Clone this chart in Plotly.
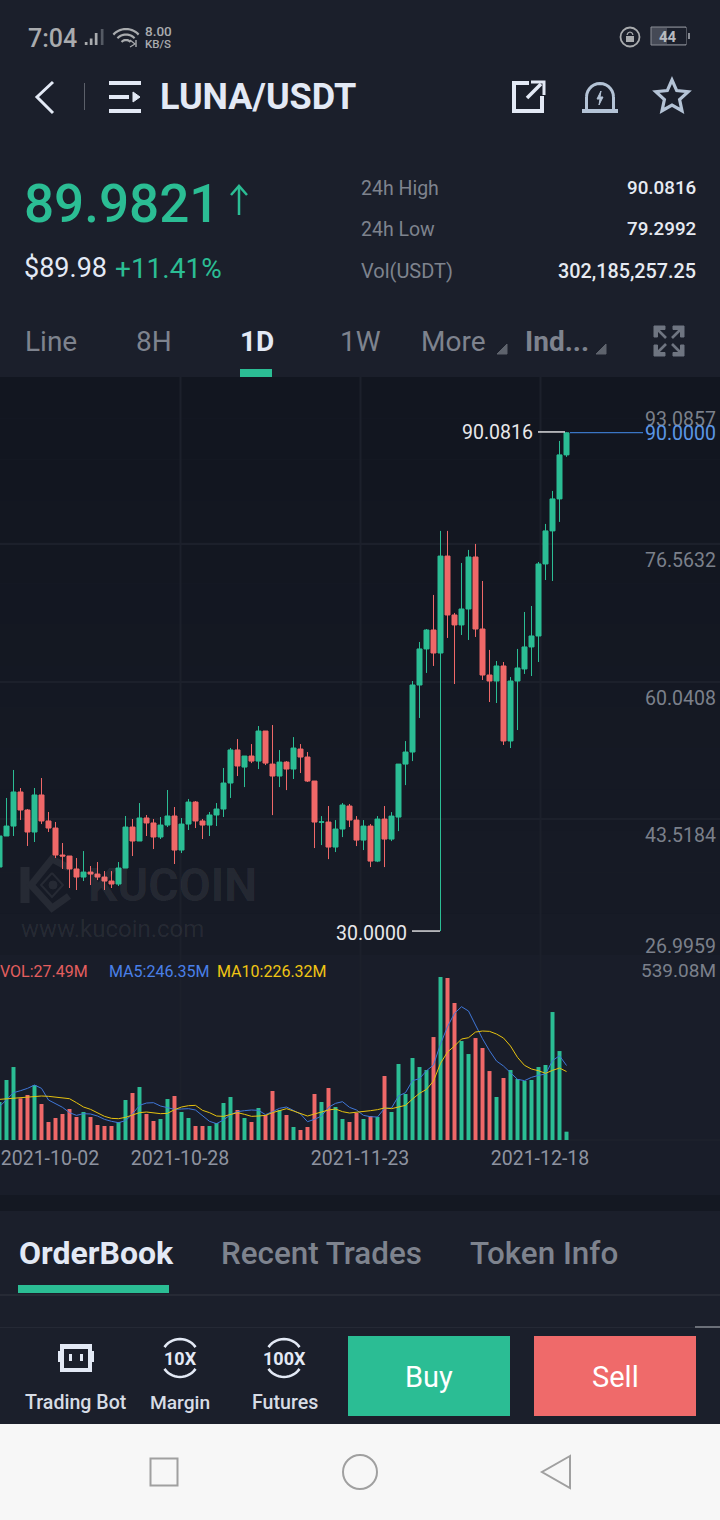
import math
import pandas as pd
import plotly.graph_objects as go

# ---------------- data ----------------
dates = pd.date_range("2021-10-02", periods=82, freq="D")
open_ = [37.71,41.44,42.64,46.74,44.57,41.92,46.38,43.25,42.40,39.15,
         39.03,37.47,36.50,37.10,36.86,36.50,36.02,35.66,37.59,42.52,
         40.84,43.61,43.01,41.32,42.76,43.85,39.75,42.88,45.53,43.25,
         42.76,43.97,44.69,47.82,51.80,49.74,51.07,50.46,54.08,50.10,
         48.66,50.34,49.50,51.91,50.95,48.06,43.10,43.12,40.11,42.28,
         45.05,43.36,40.95,42.64,38.42,43.48,41.07,43.72,50.10,51.55,
         59.62,63.96,66.24,63.47,75.14,68.05,66.85,68.77,75.03,66.36,
         60.82,60.10,61.91,52.88,60.10,61.55,64.20,65.52,74.19,78.17,
         82.02,87.32]
close = [41.44,42.64,46.74,44.57,41.92,46.38,43.25,42.40,39.15,39.03,
         37.47,36.50,37.10,36.86,36.50,36.02,35.66,37.59,42.52,40.84,
         43.61,43.01,41.32,42.76,43.85,39.75,42.88,45.53,43.25,42.76,
         43.97,44.69,47.82,51.80,49.87,51.07,50.46,54.08,50.22,48.66,
         50.34,49.50,52.03,50.95,48.06,43.12,43.14,40.11,42.28,45.17,
         43.36,40.95,42.64,38.42,43.48,41.07,43.84,50.10,51.55,59.62,
         63.96,66.24,63.47,75.14,68.05,66.85,68.77,75.03,66.36,60.82,
         60.10,61.91,52.88,60.10,61.67,64.20,65.52,74.19,78.17,82.02,
         87.32,89.98]
high = [41.76,46.02,49.39,47.22,44.69,47.22,48.42,44.33,43.13,40.60,
        39.03,38.79,39.63,37.83,38.31,37.22,37.22,38.31,43.85,43.49,
        45.41,43.97,43.49,43.73,46.98,44.93,43.61,45.90,45.65,43.49,
        44.33,45.41,49.63,52.04,53.11,51.07,52.51,54.68,54.08,54.80,
        51.79,50.46,53.35,52.51,51.55,48.06,43.84,45.05,43.36,45.41,
        45.29,43.84,43.36,42.88,43.84,45.05,44.32,50.10,52.87,60.10,
        64.80,66.36,70.46,78.17,78.17,68.29,74.31,75.88,76.60,72.14,
        63.84,62.51,62.39,60.58,63.96,68.41,69.13,74.43,79.01,82.98,
        89.00,90.0816]
low = [37.14,41.44,41.44,43.37,40.24,40.72,42.88,41.92,38.79,37.47,
       35.18,34.94,36.02,35.54,36.14,34.94,35.18,35.42,37.59,39.03,
       40.84,41.44,39.87,41.08,42.52,38.07,39.39,42.16,42.40,41.08,
       41.44,42.64,43.73,46.02,48.66,47.33,50.22,49.50,49.98,43.96,
       47.33,46.97,48.30,49.02,47.94,39.99,40.35,38.66,39.51,41.31,
       42.52,40.23,39.75,37.70,38.30,37.70,40.83,42.03,47.57,50.46,
       55.65,61.07,61.91,30.00,65.28,59.74,65.64,65.04,65.40,60.22,
       57.57,57.45,52.40,52.03,54.20,60.95,60.70,62.39,72.26,72.14,
       79.25,87.08]
volume = [125.6,198.4,241.3,137.8,148.8,181.8,119.0,59.5,72.7,86.0,
          102.5,76.0,92.6,76.0,49.6,46.3,46.3,59.5,132.2,155.4,
          175.2,86.0,62.8,69.4,135.5,145.5,92.6,72.7,46.3,46.3,
          46.3,56.2,122.3,142.2,99.2,72.7,59.5,105.8,82.7,162.0,
          99.2,82.7,43.0,33.1,43.0,152.1,125.6,171.9,109.1,69.4,
          59.5,89.3,69.4,79.3,76.0,211.6,92.6,251.3,152.1,271.1,
          241.3,231.4,340.5,539.08,535.6,452.9,327.3,284.3,337.2,304.2,
          228.1,142.2,205.0,231.4,201.7,195.1,198.4,241.3,248.0,423.2,
          294.2,27.49]
ma5 = [110.2,132.2,156.5,163.1,170.8,181.8,170.8,132.2,119.0,108.0,
       90.4,81.5,87.1,86.0,79.3,68.3,61.7,57.3,63.9,86.0,
       114.6,122.3,123.4,112.4,106.9,101.4,102.5,103.6,99.2,81.5,
       61.7,54.0,66.1,83.8,93.7,97.0,99.2,98.1,83.8,93.7,
       104.7,109.1,97.0,86.0,60.6,68.3,79.3,108.0,121.2,126.7,
       108.0,99.2,81.5,77.1,76.0,104.7,105.8,145.5,156.5,196.2,
       202.8,229.2,248.0,317.4,374.7,418.8,440.8,426.5,380.2,335.0,
       295.3,261.2,244.6,222.6,200.6,196.2,207.2,213.8,218.2,262.3,
       278.8,246.35]
ma10 = [134.4,136.6,138.9,138.9,141.1,143.3,145.5,144.4,141.1,138.9,
        136.6,123.4,109.1,101.4,90.4,78.2,71.6,70.5,74.9,81.5,
        90.4,92.6,90.4,87.1,88.2,100.3,109.1,113.5,114.6,98.1,
        90.4,79.3,78.2,83.8,90.4,84.9,78.2,79.3,81.5,90.4,
        98.1,103.6,95.9,87.1,79.3,86.0,92.6,99.2,102.5,93.7,
        89.3,91.5,92.6,97.0,100.3,105.8,103.6,110.2,114.6,135.5,
        154.3,167.5,195.1,253.5,290.9,310.8,333.9,338.3,357.0,360.4,
        359.3,350.4,337.2,310.8,273.3,246.8,234.7,229.2,220.4,230.3,
        238.0,226.32]
price_ticks = [93.0857, 76.5632, 60.0408, 43.5184, 26.9959]
price_labels = ["93.0857", "76.5632", "60.0408", "43.5184", "26.9959"]
date_labels = ["2021-10-02", "2021-10-28", "2021-11-23", "2021-12-18"]
last_price = 90.0
high_mark = 90.0816
low_mark = 30.0

# ---------------- colours ----------------
GREEN = "#2bbd94"; RED = "#ef6868"; HEAD = "#1b1f2b"; VOLBG = "#191d29"
GRID = "#1c202b"; LIGHT = "#e3e9f5"; GREY = "#7e838e"; STEEL = "#b4c3d6"
W, H = 720, 1520
FONT = "Roboto"

fx = lambda x: x / W
fy = lambda y: 1 - y / H
shapes, notes = [], []

def rect(x0, y0, x1, y1, color, layer="above"):
    shapes.append(dict(type="rect", xref="paper", yref="paper", x0=fx(x0), x1=fx(x1),
                       y0=fy(y0), y1=fy(y1), fillcolor=color, line=dict(width=0), layer=layer))

def poly(pts, color, width=2, closed=False, fill=None, layer="above"):
    d = "M" + " L".join(f"{fx(a):.6f},{fy(b):.6f}" for a, b in pts) + (" Z" if closed else "")
    shapes.append(dict(type="path", xref="paper", yref="paper", path=d, layer=layer,
                       fillcolor=fill if fill else "rgba(0,0,0,0)",
                       line=dict(color=color, width=width)))

def circle(cx, cy, r, color, width=2, fill=None, layer="above"):
    shapes.append(dict(type="circle", xref="paper", yref="paper", x0=fx(cx - r), x1=fx(cx + r),
                       y0=fy(cy + r), y1=fy(cy - r), layer=layer,
                       fillcolor=fill if fill else "rgba(0,0,0,0)",
                       line=dict(color=color, width=width)))

def arc(cx, cy, r, a0, a1, color, width=2):
    n = 14
    poly([(cx + r * math.cos(math.radians(a0 + (a1 - a0) * i / n)),
           cy - r * math.sin(math.radians(a0 + (a1 - a0) * i / n))) for i in range(n + 1)], color, width)

def text(x, y, s, size, color, anchor="left", weight=400, family=FONT):
    notes.append(dict(xref="paper", yref="paper", x=fx(x), y=fy(y), text=s, showarrow=False,
                      xanchor=anchor, yanchor="middle", borderpad=0, borderwidth=0,
                      font=dict(family=family, size=size, color=color, weight=weight)))

# ---------------- backgrounds ----------------
rect(0, 0, W, H, HEAD, "below")
steps = 14
for i in range(steps):
    t = i / (steps - 1)
    c = "#%02x%02x%02x" % (int(18 + 5 * t), int(22 + 5 * t), int(32 + 6 * t))
    rect(0, 377 + (955 - 377) * i / steps, W, 377 + (955 - 377) * (i + 1) / steps, c, "below")
rect(0, 955, W, 1195, VOLBG, "below")
rect(0, 1195, W, 1211, "#141822", "below")
rect(0, 1294, W, 1296, "#262a35", "below")
rect(0, 1327, W, 1328, "#252935", "below")
rect(695, 1326, W, 1328, "#6b6f78", "below")
rect(0, 1424, W, H, "#f7f7f7", "below")

# watermark (drawn below the candles where it can be)
wm = "#262a34"
poly([(25, 867), (25, 903)], wm, 9, layer="below")
poly([(69, 868), (52, 859), (31, 885), (52, 908), (69, 896)], wm, 7, layer="below")
poly([(52, 873), (41, 885), (52, 897), (63, 885), (52, 873)], wm, 2, layer="below")
circle(53, 885, 4, wm, 1, wm, "below")
text(88, 885, "KUCOIN", 46.5, "rgba(255,255,255,0.07)", weight=700)
text(21, 929, "www.kucoin.com", 24, "rgba(255,255,255,0.07)")

# ---------------- status bar ----------------
text(28, 38, "7:04", 25, "#a9abae", weight=500)
for x, y0, c in [(86, 42, "#a9abae"), (91, 38.5, "#a9abae"), (96, 33, "#a9abae"), (102, 29, "#555a64")]:
    rect(x - 1.2, y0, x + 1.5, 45, c)
for r in (17, 11.5, 6):
    arc(126, 46, r, 42, 138, "#a9abae", 2.2)
poly([(136, 40), (136, 47)], "#a9abae", 1.4)
poly([(130, 40), (135, 44), (130, 47)], "#a9abae", 1.2)
text(145, 31, "8.00", 13.5, "#a9abae", weight=500)
text(145, 44, "KB/S", 11.5, "#a9abae", weight=500)
circle(630, 37, 9.5, "#a9abae", 1.8)
rect(626, 36, 634, 42, "#a9abae")
arc(630, 35, 2.8, 0, 180, "#a9abae", 1.2)
rect(651, 27, 686, 45, "#454955")
shapes[-1]["line"] = dict(color="#8b8e96", width=1)
rect(667, 28, 686, 44, HEAD)
text(668, 37, "44", 15, "#b8bac0", "center", 700)
rect(688, 33, 690, 39, "#8b8e96")

# ---------------- toolbar ----------------
poly([(53, 82), (37, 97), (53, 113)], LIGHT, 3)
rect(84, 83, 85, 110, "#5c606a")
rect(109, 81, 141, 85, LIGHT); rect(109, 95, 129, 99, LIGHT); rect(109, 109, 141, 113, LIGHT)
poly([(133, 92), (140, 97), (133, 102)], LIGHT, 1, True, LIGHT)
text(160, 97, "LUNA/USDT", 36, LIGHT, weight=700)
poly([(529, 83), (514, 83), (514, 111), (542, 111), (542, 96)], LIGHT, 4)
poly([(527, 98), (541, 84)], LIGHT, 3.5)
poly([(531, 82), (544, 82), (544, 95)], LIGHT, 3)
arc(600, 97, 13.5, 0, 180, STEEL, 3)
poly([(586.5, 97), (586.5, 109)], STEEL, 3); poly([(613.5, 97), (613.5, 109)], STEEL, 3)
rect(582, 109, 618, 113, STEEL)
poly([(601, 91), (597, 99), (600, 99), (599, 105), (603, 97), (600, 97)], STEEL, 1, True, STEEL)
star = []
for i in range(10):
    r = 17 if i % 2 == 0 else 8
    a = math.radians(90 + 36 * i)
    star.append((672 + r * math.cos(a), 97 - r * math.sin(a)))
poly(star, STEEL, 3.2, True)

# ---------------- price block ----------------
text(24, 204, "89.9821", 53, GREEN, weight=500)
poly([(239, 215), (239, 187)], GREEN, 2.5)
poly([(231, 195), (239, 186), (247, 195)], GREEN, 2.5)
text(24, 268, "$89.98", 27, LIGHT)
text(115, 268, "+11.41%", 28, GREEN)
for y, a, b, sa, sb in [(188, "24h High", "90.0816", 19.5, 18.8),
                        (229, "24h Low", "79.2992", 19.5, 18.8),
                        (271, "Vol(USDT)", "302,185,257.25", 20, 19.8)]:
    text(361, y, a, sa, GREY)
    text(695.5, y, b, sb, "#e6eaf2", "right", 500)

# ---------------- tabs ----------------
for x, s, c, w in [(25, "Line", GREY, 400), (136, "8H", GREY, 400), (240, "1D", LIGHT, 700),
                   (340, "1W", GREY, 400), (421, "More", GREY, 400), (525, "Ind...", GREY, 700)]:
    text(x, 342, s, 28, c, weight=w)
rect(240, 369, 272, 377, GREEN)
poly([(497, 354), (507, 354), (507, 344)], "#5e636d", 1, True, "#5e636d")
poly([(596, 354), (606, 354), (606, 344)], "#5e636d", 1, True, "#5e636d")
ic = "#6f7581"
for (x, y, dx, dy) in [(654, 326, 1, 1), (684, 326, -1, 1), (654, 356, 1, -1), (684, 356, -1, -1)]:
    poly([(x, y), (x + 11 * dx, y), (x + 11 * dx, y + 3.5 * dy), (x + 3.5 * dx, y + 3.5 * dy),
          (x + 3.5 * dx, y + 11 * dy), (x, y + 11 * dy)], ic, 1, True, ic)
    poly([(x + 3 * dx, y + 3 * dy), (x + 12 * dx, y + 12 * dy)], ic, 2.6)

# ---------------- chart furniture ----------------
grid_dates = ["2021-10-27 20:34", "2021-11-22 13:43", "2021-12-18 06:51"]
for d in grid_dates:
    shapes.append(dict(type="line", xref="x", yref="paper", x0=d, x1=d, y0=fy(377), y1=fy(1140),
                       line=dict(color=GRID, width=2), layer="below"))
shapes.append(dict(type="line", xref="paper", yref="y", x0=fx(570), x1=fx(643),
                   y0=last_price, y1=last_price, line=dict(color="#3a75c4", width=1.2)))
shapes.append(dict(type="line", xref="paper", yref="y", x0=fx(538), x1=fx(565),
                   y0=high_mark, y1=high_mark, line=dict(color="#e8e8ea", width=1.4)))
shapes.append(dict(type="line", xref="paper", yref="y", x0=fx(412), x1=fx(440),
                   y0=low_mark, y1=low_mark, line=dict(color="#e8e8ea", width=1.4)))

for v, s, dy in zip(price_ticks, price_labels, [12.5, 16.5, 16.5, 16.5, -9.5]):
    notes.append(dict(xref="paper", yref="y", x=fx(716.5), y=v, yshift=-dy, text=s, showarrow=False,
                      xanchor="right", yanchor="middle", borderpad=0,
                      font=dict(family=FONT, size=19.5, color="#7b808b")))
for v, s, x, col, sh in [(last_price, "90.0000", 716.5, "#5b96e6", -1),
                         (high_mark, "90.0816", 534, "#e8e8ea", -1),
                         (low_mark, "30.0000", 408, "#e8e8ea", -2)]:
    notes.append(dict(xref="paper", yref="y", x=fx(x), y=v, yshift=sh, text=s, showarrow=False,
                      xanchor="right", yanchor="middle", borderpad=0,
                      font=dict(family=FONT, size=19.5, color=col)))
text(0, 971, "VOL:27.49M", 16, "#e45f5f")
text(109, 971, "MA5:246.35M", 16, "#4a80e8")
text(217, 971, "MA10:226.32M", 16, "#f0c514")
text(716, 970, "539.08M", 19, "#7b808b", "right")

# ---------------- bottom ----------------
text(19, 1253, "OrderBook", 32, LIGHT, weight=700)
text(221, 1253, "Recent Trades", 31.4, GREY, weight=500)
text(470, 1253, "Token Info", 31.4, GREY, weight=500)
rect(18, 1285, 169, 1293, GREEN)

rect(60, 1344, 92, 1372, LIGHT); rect(58, 1351, 94, 1362, LIGHT)
rect(64, 1349, 88, 1368, HEAD)
rect(69, 1354, 72, 1361, LIGHT); rect(80, 1354, 83, 1361, LIGHT)
text(76, 1402, "Trading Bot", 19.6, "#d7dce5", "center", 500)
text(180, 1402, "Margin", 19.2, "#d7dce5", "center", 500)
text(284.5, 1402, "Futures", 19.6, "#d7dce5", "center", 500)
for cx, label, sz in [(180, "10X", 18), (284, "100X", 18)]:
    arc(cx, 1358, 19, 35, 145, LIGHT, 2.6)
    arc(cx, 1358, 19, 215, 325, LIGHT, 2.6)
    text(cx, 1358, label, sz, LIGHT, "center", 700)
rect(348, 1336, 510, 1416, GREEN)
rect(534, 1336, 696, 1416, "#ef6a6a")
text(429, 1377, "Buy", 29, "#ffffff", "center", 400)
text(615, 1377, "Sell", 29, "#ffffff", "center", 400)

rect(150.5, 1458.5, 177.5, 1485.5, "#f7f7f7")
shapes[-1]["line"] = dict(color="#a0a0a0", width=2)
circle(360, 1472, 17, "#a0a0a0", 2)
poly([(570, 1456), (542, 1472), (570, 1488)], "#a0a0a0", 2, True)

# ---------------- traces ----------------
bar_colors = [GREEN if c >= o else RED for o, c in zip(open_, close)]
candles = go.Candlestick(
    x=dates, open=open_, high=high, low=low, close=close, xaxis="x", yaxis="y",
    increasing=dict(line=dict(color=GREEN, width=1), fillcolor=GREEN),
    decreasing=dict(line=dict(color=RED, width=1), fillcolor=RED),
    hoverinfo="skip", showlegend=False)
bars = go.Bar(x=dates, y=volume, marker=dict(color=bar_colors, line=dict(width=0)),
              xaxis="x2", yaxis="y2", hoverinfo="skip", showlegend=False)
l5 = go.Scatter(x=dates, y=ma5, mode="lines", line=dict(color="#3f77d8", width=1),
                xaxis="x2", yaxis="y2", hoverinfo="skip", showlegend=False)
l10 = go.Scatter(x=dates, y=ma10, mode="lines", line=dict(color="#e6c20f", width=1),
                 xaxis="x2", yaxis="y2", hoverinfo="skip", showlegend=False)

x_range = ["2021-10-02 01:43", "2022-01-12 22:17"]
tick_x = ["2021-10-09 05:08", "2021-10-27 18:51", "2021-11-22 12:00", "2021-12-18 05:08"]
fig = go.Figure([candles, bars, l5, l10])
fig.update_layout(
    width=W, height=H, margin=dict(l=0, r=0, t=0, b=0, pad=0), autosize=False,
    paper_bgcolor=HEAD, plot_bgcolor="rgba(0,0,0,0)", showlegend=False, hovermode=False,
    dragmode=False, bargap=0.43, boxgap=0.286, boxgroupgap=0, shapes=shapes, annotations=notes,
    font=dict(family=FONT),
    xaxis=dict(domain=[0, 1], range=x_range, anchor="y", type="date", rangeslider=dict(visible=False),
               showgrid=False, showticklabels=False, zeroline=False, showline=False, ticks=""),
    yaxis=dict(domain=[fy(956), fy(407)], range=[26.9959, 93.0857], anchor="x", tickmode="array",
               tickvals=price_ticks, showticklabels=False, gridcolor=GRID, gridwidth=2,
               zeroline=False, showline=False, ticks=""),
    xaxis2=dict(domain=[0, 1], range=x_range, anchor="y2", type="date", tickmode="array",
                tickvals=tick_x, ticktext=date_labels, showgrid=False, zeroline=False,
                showline=False, ticks="outside", ticklen=1, tickcolor="rgba(0,0,0,0)", tickangle=0,
                tickfont=dict(family=FONT, size=19.5, color="#8e93a0")),
    yaxis2=dict(domain=[fy(1140), fy(955)], range=[0, 611.8], anchor="x2", showgrid=False,
                showticklabels=False, zeroline=True, zerolinecolor=GRID, zerolinewidth=2,
                showline=False, ticks=""),
)
post = ("document.documentElement.style.margin='0';document.body.style.margin='0';"
        "document.body.style.padding='0';document.body.style.overflow='hidden';"
        "document.body.style.background='#1b1f2b';")
fig.write_html("out.html", config=dict(displayModeBar=False, staticPlot=True), post_script=post)
